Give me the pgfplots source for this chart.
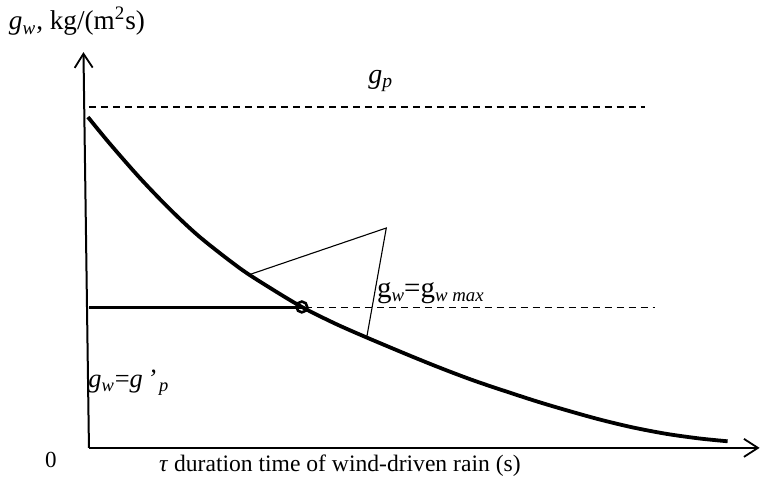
\documentclass[border=0pt]{standalone}
\usepackage{pgfplots}
\pgfplotsset{compat=1.18}
\usepackage{fontspec}
\setmainfont{Liberation Serif}
\usetikzlibrary{arrows.meta}
\begin{document}
\begin{tikzpicture}
\begin{axis}[
  width=380.5pt, height=239.5pt, scale only axis,
  hide axis, clip=false,
  xmin=0, xmax=761, ymin=0, ymax=479, y dir=reverse,
]
% bounding box
\addplot[draw=none] coordinates {(0,0) (761,479)};
% axes
\addplot[line width=1pt, -{Straight Barb[length=7pt, width=9pt, line width=0.9pt]}] coordinates {(89,447) (760,447)};
\addplot[line width=1pt, -{Straight Barb[length=7pt, width=9pt, line width=0.9pt]}] coordinates {(89,447) (83.5,51)};
% dashed lines
\addplot[line width=0.9pt, dash pattern=on 3.6pt off 2.4pt] coordinates {(89,106) (645,106)};
\addplot[line width=0.9pt, dash pattern=on 3.6pt off 2.4pt] coordinates {(89,306.5) (655,306.5)};
% thick horizontal segment
\addplot[line width=1.6pt] coordinates {(89,306.5) (302,306.5)};
% curve
\addplot[line width=1.9pt, smooth, tension=0.5] coordinates {
(88,116) (110,142.8) (140,177) (170,208.2) (200,236.1) (240,267.3) (270,286.8)
(302,306) (335,322.5) (367,336.6) (413,355.9) (447,369.5) (480,381.7) (533,399.2)
(567,409.4) (600,418.6) (633,426.5) (667,433) (700,437.6) (728,440.4)};
% circle
\addplot[only marks, mark=o, mark size=2.7pt, mark options={line width=1.3pt, fill=white}] coordinates {(302,306)};
% triangle annotation
\addplot[line width=0.55pt] coordinates {(250,273.5) (386.5,227) (367,336)};
% labels
\node[anchor=center, font=\fontsize{13.6}{15}\selectfont] at (axis cs:77,20) {\textit{g}\textsubscript{\textit{w}}, kg/(m\textsuperscript{2}s)};
\node[anchor=center, font=\fontsize{14}{15}\selectfont] at (axis cs:381,80) {\textit{g}\textsubscript{\textit{p}}};
\node[anchor=west, inner sep=0pt] at (axis cs:377,292) {\fontsize{14.5}{15}\selectfont g\raisebox{-2.2pt}{\fontsize{9.4}{10}\selectfont\itshape w}=g\raisebox{-2.2pt}{\fontsize{9.4}{10}\selectfont\itshape w max}};
\node[anchor=west, inner sep=0pt, font=\fontsize{13.2}{14}\selectfont] at (axis cs:88,382) {\textit{g}\textsubscript{\textit{w}}=\textit{g\,’}\textsubscript{\textit{\,p}}};
\node[anchor=center, font=\fontsize{11.5}{13}\selectfont] at (axis cs:51,459) {0};
\node[anchor=center, font=\fontsize{11.8}{13}\selectfont] at (axis cs:340,465) {\textit{τ} duration time of wind-driven rain (s)};
\end{axis}
\end{tikzpicture}
\end{document}
